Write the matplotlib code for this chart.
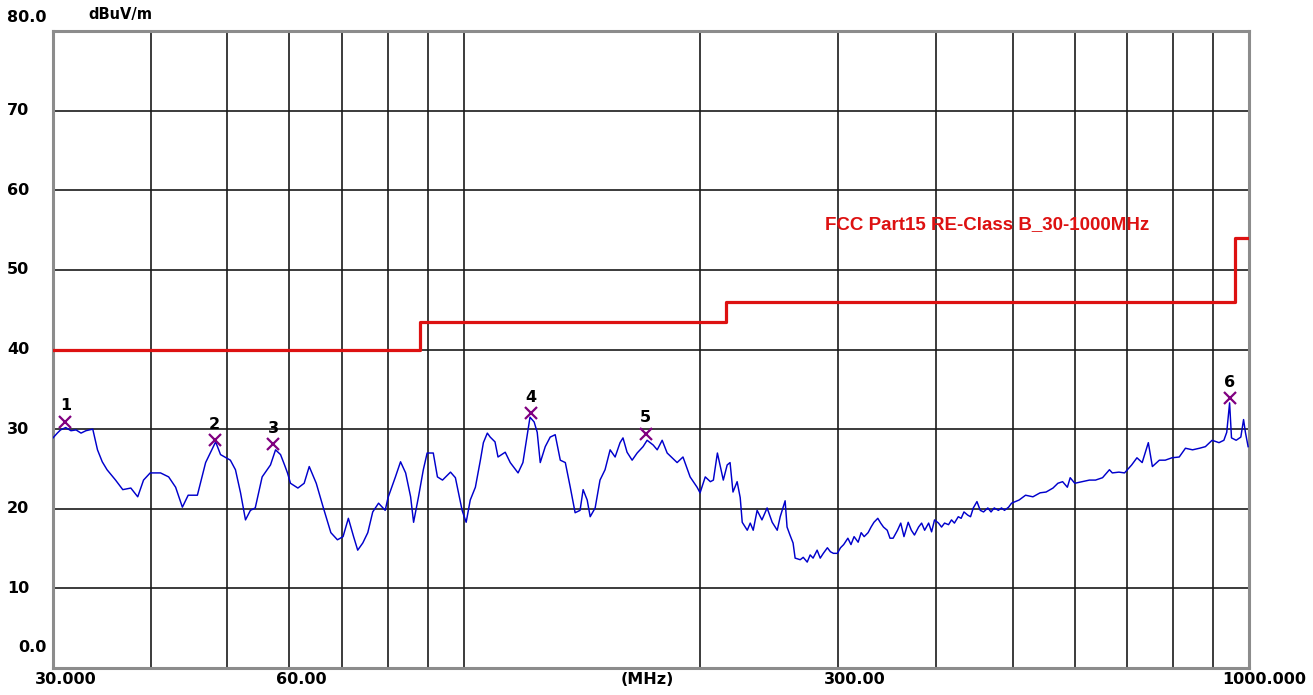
import numpy as np
import matplotlib
matplotlib.use("Agg")
import matplotlib.pyplot as plt

# measured trace, frequency in MHz and level in dBuV/m
freq = [30.0, 30.38, 30.67, 31.14, 31.62, 32.1, 32.57, 33.04, 33.71, 34.18,
        34.66, 35.15, 36.04, 36.81, 37.69, 38.46, 39.12, 39.89, 41.12, 42.11,
        42.98, 43.84, 44.59, 45.81, 46.93, 47.63, 48.33, 49.03, 50.46, 51.22,
        51.99, 52.75, 53.52, 54.28, 55.39, 56.76, 57.61, 58.46, 59.15, 59.66,
        60.19, 61.51, 62.65, 63.59, 64.91, 66.24, 67.75, 69.07, 70.22, 71.32,
        72.42, 73.3, 74.4, 75.5, 76.6, 77.92, 79.45, 80.12, 81.87, 83.11,
        84.36, 85.6, 86.35, 87.6, 88.85, 89.85, 91.48, 92.6, 93.99, 96.22,
        97.61, 99.55, 100.74, 101.96, 103.5, 105.03, 105.96, 107.19, 108.1, 109.63,
        110.6, 112.96, 114.64, 117.3, 118.98, 120.37, 121.48, 122.96, 124.07, 125.18,
        127.03, 128.89, 130.79, 132.76, 134.73, 136.7, 138.66, 140.68, 141.95, 143.65,
        144.92, 147.04, 149.15, 151.37, 153.64, 155.91, 158.18, 159.55, 161.46, 163.88,
        166.31, 169.22, 171.24, 174.33, 176.39, 178.97, 181.61, 184.3, 186.99, 190.23,
        194.25, 198.27, 200.0, 203.07, 206.13, 207.97, 210.43, 212.26, 214.1, 216.55,
        218.39, 220.27, 222.96, 224.98, 226.32, 229.69, 231.71, 233.73, 236.42, 239.79,
        243.45, 247.11, 250.78, 252.98, 256.65, 258.11, 260.32, 262.7, 264.29, 268.26,
        270.64, 273.82, 276.2, 278.58, 281.9, 284.48, 287.07, 290.52, 293.1, 295.69,
        299.14, 301.89, 304.72, 308.49, 311.32, 314.15, 317.92, 320.75, 323.58, 327.35,
        330.18, 333.01, 336.79, 339.62, 342.45, 346.22, 349.06, 352.27, 356.82, 360.23,
        363.64, 368.18, 371.59, 375.0, 379.55, 382.95, 386.36, 390.91, 394.32, 397.73,
        402.4, 406.0, 409.6, 414.4, 418.0, 421.6, 426.4, 430.0, 433.6, 438.4,
        442.0, 445.6, 450.4, 454.8, 459.2, 465.0, 469.4, 473.8, 479.6, 484.0,
        488.3, 494.2, 498.5, 509.7, 519.4, 530.7, 542.0, 551.6, 562.9, 571.0,
        579.0, 587.1, 592.0, 600.0, 613.2, 626.4, 637.7, 650.9, 664.2, 669.8,
        683.0, 694.3, 708.9, 720.0, 731.1, 744.4, 753.3, 768.9, 782.2, 797.8,
        815.0, 830.0, 847.5, 865.0, 880.0, 897.5, 915.8, 929.0, 936.8, 944.7,
        950.0, 963.1, 976.3, 984.2, 989.5, 997.4]
level = [28.9, 29.5, 29.9, 30.2, 29.8, 29.9, 29.5, 29.8, 30.0, 27.4,
         25.9, 24.9, 23.6, 22.4, 22.6, 21.5, 23.6, 24.5, 24.5, 24.0,
         22.7, 20.2, 21.7, 21.7, 25.8, 27.1, 28.4, 26.8, 26.1, 24.9,
         22.0, 18.6, 19.8, 20.1, 24.0, 25.5, 27.4, 26.8, 25.5, 24.5,
         23.2, 22.6, 23.2, 25.3, 23.2, 20.2, 17.0, 16.1, 16.5, 18.8,
         16.5, 14.8, 15.7, 17.0, 19.6, 20.7, 19.8, 21.4, 24.0, 25.9,
         24.5, 21.5, 18.3, 21.5, 24.9, 27.0, 27.0, 24.0, 23.6, 24.6,
         23.9, 19.8, 18.3, 21.1, 22.7, 26.1, 28.3, 29.5, 29.0, 28.4,
         26.5, 27.1, 25.8, 24.5, 25.8, 29.0, 31.5, 30.9, 29.6, 25.8,
         27.8, 29.0, 29.3, 26.1, 25.8, 22.7, 19.5, 19.8, 22.4, 21.1,
         19.0, 20.1, 23.6, 24.9, 27.4, 26.5, 28.3, 28.9, 27.1, 26.1,
         27.0, 27.8, 28.6, 28.0, 27.4, 28.6, 27.0, 26.4, 25.8, 26.5,
         24.0, 22.7, 22.0, 24.0, 23.4, 23.6, 27.0, 25.3, 23.6, 25.5,
         25.8, 22.1, 23.4, 21.4, 18.3, 17.3, 18.2, 17.3, 19.8, 18.6,
         20.1, 18.3, 17.3, 19.0, 21.0, 17.7, 16.7, 15.7, 13.8, 13.6,
         13.9, 13.3, 14.2, 13.8, 14.8, 13.8, 14.4, 15.1, 14.6, 14.4,
         14.4, 15.1, 15.5, 16.3, 15.5, 16.5, 15.8, 17.0, 16.5, 17.0,
         17.7, 18.3, 18.8, 18.2, 17.7, 17.3, 16.3, 16.3, 17.3, 18.2,
         16.5, 18.3, 17.3, 16.7, 17.7, 18.2, 17.3, 18.2, 17.1, 18.6,
         18.2, 17.7, 18.2, 18.0, 18.6, 18.2, 19.0, 18.8, 19.6, 19.2,
         19.0, 20.1, 20.9, 19.8, 19.6, 20.1, 19.6, 20.1, 19.8, 20.1,
         19.8, 20.2, 20.7, 21.1, 21.7, 21.5, 22.0, 22.1, 22.6, 23.2,
         23.4, 22.7, 23.9, 23.2, 23.4, 23.6, 23.6, 23.9, 24.9, 24.5,
         24.6, 24.5, 25.5, 26.4, 25.8, 28.3, 25.3, 26.1, 26.1, 26.4,
         26.5, 27.6, 27.4, 27.6, 27.8, 28.6, 28.3, 28.6, 29.6, 33.3,
         28.9, 28.6, 29.0, 31.2, 29.6, 27.8]

# FCC Part 15 class B limit (3 m)
limit_freq = [30, 88, 88, 216, 216, 960, 960, 1000]
limit_level = [40.0, 40.0, 43.5, 43.5, 46.0, 46.0, 54.0, 54.0]

# peak markers
mk_freq = [31.1, 48.2, 57.2, 121.8, 170.5, 944.7]
mk_level = [30.9, 28.6, 28.1, 32.0, 29.4, 33.9]
mk_names = ["1", "2", "3", "4", "5", "6"]

xgrid = [40, 50, 60, 70, 80, 90, 100, 200, 300, 400, 500, 600, 700, 800, 900]
ygrid = [10, 20, 30, 40, 50, 60, 70]

W, H = 1313, 695
fig = plt.figure(figsize=(W / 100, H / 100), dpi=100)
ax = fig.add_axes([53 / W, 27 / H, 1196 / W, 637 / H])
ax.set_xscale("log")
ax.set_xlim(30, 1000)
ax.set_ylim(0, 80)

ax.set_xticks(xgrid)
ax.set_xticks([], minor=True)
ax.set_yticks(ygrid)
ax.tick_params(which="both", length=0, labelbottom=False, labelleft=False)
ax.grid(True, color="#1a1a1a", lw=1.2)
ax.set_axisbelow(True)
for s in ax.spines.values():
    s.set_color("#8c8c8c")
    s.set_linewidth(2.2)

ax.plot(limit_freq, limit_level, color="#dd1111", lw=2.3, zorder=3)
ax.plot(freq, level, color="#0000cc", lw=1.05, zorder=4)
ax.plot(mk_freq, mk_level, ls="none", marker="x", ms=8.5, mew=1.6,
        color="#800080", zorder=5)
for f, v, n in zip(mk_freq, mk_level, mk_names):
    ax.annotate(n, xy=(f, v), xytext=(0, 16), textcoords="offset pixels",
                ha="center", va="center", fontsize=11.5, fontweight="bold")

ax.text(825 / W, 1 - 225 / H, "FCC Part15 RE-Class B_30-1000MHz",
        transform=fig.transFigure, color="#dd1111", fontsize=13.5,
        fontweight="bold", family="Liberation Sans", va="center", ha="left")

# y labels
lab = dict(fontsize=11.5, fontweight="bold", va="center")
ytf = ax.get_yaxis_transform()
for v in ygrid:
    ax.text(-46 / 1196, v, str(v), transform=ytf, ha="left", **lab)
ax.annotate("80.0", xy=(0, 80), xycoords=ytf, xytext=(-6, 14),
            textcoords="offset pixels", ha="right", **lab)
ax.annotate("0.0", xy=(0, 0), xycoords=ytf, xytext=(-6, 20),
            textcoords="offset pixels", ha="right", **lab)
ax.annotate("dBuV/m", xy=(0, 80), xycoords=ytf, xytext=(35, 16),
            textcoords="offset pixels", ha="left", fontsize=10.5,
            fontweight="bold", va="center")

# x labels
xtf = ax.get_xaxis_transform()
xlabels = [(30, "30.000", 13), (60, "60.00", 12), (173.2, "(MHz)", -4),
           (300, "300.00", 16), (1000, "1000.000", 15)]
for f, t, dx in xlabels:
    ax.annotate(t, xy=(f, 0), xycoords=xtf, xytext=(dx, -12),
                textcoords="offset pixels", ha="center", **lab)

fig.savefig("out.png", dpi=100)
